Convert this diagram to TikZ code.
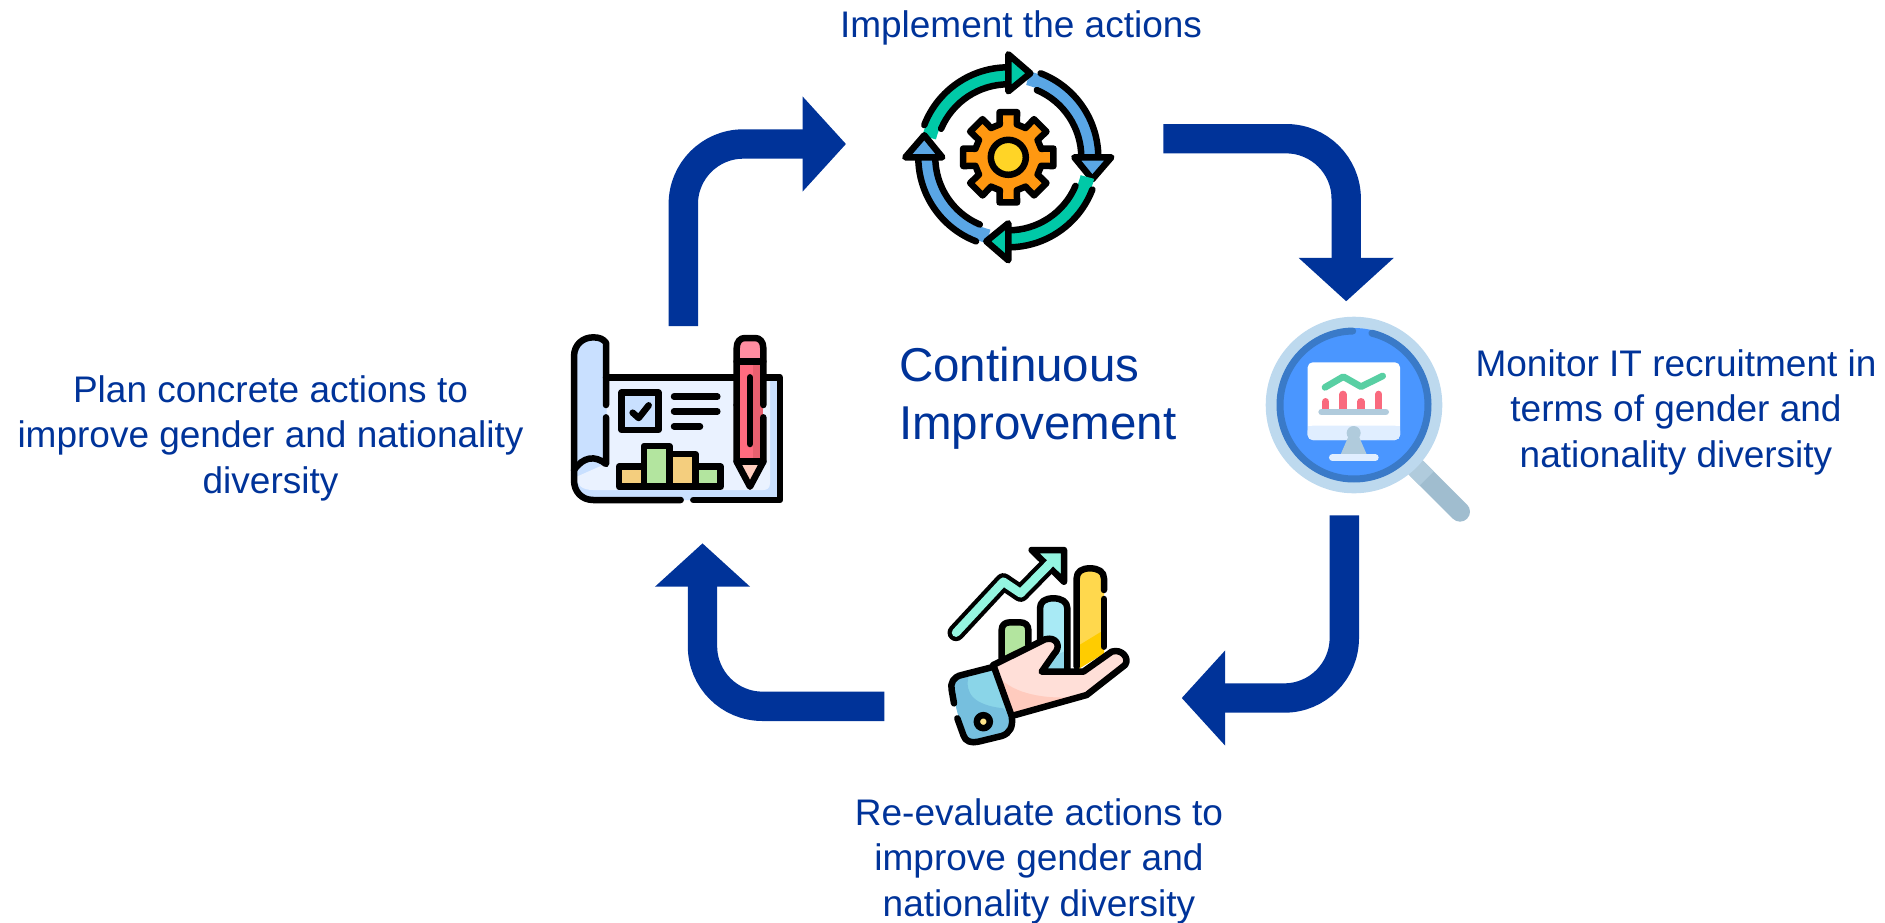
\documentclass[tikz,border=0pt]{standalone}
\usepackage{fontspec}
\setmainfont{Liberation Sans}
\usetikzlibrary{arrows.meta}
\definecolor{navy}{HTML}{003399}
\definecolor{ringteal}{HTML}{00C9A7}
\definecolor{ringblue}{HTML}{5AA6E5}
\definecolor{gearor}{HTML}{FF9811}
\definecolor{gearye}{HTML}{FFD426}
\definecolor{pagelt}{HTML}{EAF2FF}
\definecolor{pagedk}{HTML}{C9E0FF}
\definecolor{baror}{HTML}{F4CE7E}
\definecolor{bargr}{HTML}{B3E59F}
\definecolor{penred}{HTML}{FF6B7F}
\definecolor{penpk}{HTML}{FF8DA0}
\definecolor{pendk}{HTML}{E9606F}
\definecolor{pentip}{HTML}{FFCDBE}
\definecolor{lenslt}{HTML}{BDD9EE}
\definecolor{lensdk}{HTML}{3A7AC8}
\definecolor{lensin}{HTML}{4A96FF}
\definecolor{hndl}{HTML}{A0BDCF}
\definecolor{hndllt}{HTML}{B0CBDC}
\definecolor{scrlow}{HTML}{E0EEFF}
\definecolor{chartgr}{HTML}{58CFA3}
\definecolor{chartrd}{HTML}{F96A7E}
\definecolor{arrteal}{HTML}{94F5E0}
\definecolor{barblue}{HTML}{A8EAF5}
\definecolor{barbluedk}{HTML}{8FD6E8}
\definecolor{baryel}{HTML}{FFD84D}
\definecolor{baryeldk}{HTML}{FFCC00}
\definecolor{skin}{HTML}{FFDFD8}
\definecolor{skindk}{HTML}{FFCBBE}
\definecolor{cuff}{HTML}{8AD5E8}
\definecolor{cuffdk}{HTML}{76BFDE}
\definecolor{btn}{HTML}{FFE58A}
\tikzset{
  flow/.style={line width=29.4pt,navy,rounded corners=60pt,
    -{Triangle[length=43.4pt,width=92.6pt]}},
  caption/.style={text=navy,align=center,inner sep=0pt,
    font=\fontsize{37}{45.5}\selectfont},
  bigcaption/.style={text=navy,align=left,inner sep=0pt,
    font=\fontsize{47.5}{58}\selectfont},
  ink/.style={draw=black,line width=6.5pt,line cap=round,line join=round},
  zoomed/.style={x=.33333pt,y=-.33333pt},
}
\begin{document}
\begin{tikzpicture}[x=1pt,y=-1pt]
\useasboundingbox (0,0) rectangle (1885,922);
% icon anchors and arrow ends
\coordinate (gear) at (1008.3,157.3);
\coordinate (a1s) at (683.3,326);   \coordinate (a1c) at (683.3,144);   \coordinate (a1e) at (846,144);
\coordinate (a2s) at (1163.3,138.7);\coordinate (a2c) at (1346.2,138.7);\coordinate (a2e) at (1346.2,301.3);
\coordinate (a3s) at (1344.3,515.3);\coordinate (a3c) at (1344.3,698);  \coordinate (a3e) at (1181.7,698);
\coordinate (a4s) at (884.3,706.3); \coordinate (a4c) at (702.5,706.3); \coordinate (a4e) at (702.5,543.3);
% arrows
\draw[flow] (a1s) -- (a1c) -- (a1e);
\draw[flow] (a2s) -- (a2c) -- (a2e);
\draw[flow] (a3s) -- (a3c) -- (a3e);
\draw[flow] (a4s) -- (a4c) -- (a4e);
% texts
\node[caption] (tImpl) at (1021,28) {Implement the actions};
\node[caption] (tPlan) at (270.5,438) {Plan concrete actions to\\improve gender and nationality\\diversity};
\node[caption] (tMon) at (1676,412) {Monitor IT recruitment in\\terms of gender and\\nationality diversity};
\node[caption] (tRe) at (1039,861) {Re-evaluate actions to\\improve gender and\\nationality diversity};
\node[bigcaption,anchor=west] (tCont) at (899,398) {Continuous\\Improvement};
% ---------- gear icon ----------
\begin{scope}[shift={(gear)},x=1pt,y=1pt]
  \foreach \k/\c in {0/ringblue,90/ringteal,180/ringblue,270/ringteal}{
   \begin{scope}[rotate=\k]
    \draw[line width=14pt,\c] (76:81.5pt) arc[start angle=76,end angle=0,radius=81.5pt];
    \draw[ink] (69:90pt) arc[start angle=69,end angle=0,radius=90pt];
    \draw[ink] (67:73pt) arc[start angle=67,end angle=0,radius=73pt];
    \filldraw[ink,fill=\c] (66pt,0pt) -- (103pt,0pt) -- (84pt,-22pt) -- cycle;
   \end{scope}}
  \filldraw[ink,fill=gearor]
    (-14.5:34pt) \foreach \a in {0,45,...,315}{
      -- (\a-14.5:34pt) -- (\a-11:46pt) -- (\a+11:46pt) -- (\a+14.5:34pt) } -- cycle;
  \filldraw[ink,fill=gearye] (0,0) circle[radius=17.5pt];
\end{scope}
% ---------- blueprint icon ----------
\begin{scope}[shift={(550,320)},zoomed]
  \fill[pagedk] (170,172) -- (690,172) -- (690,540) -- (130,540)
     .. controls (95,540) and (72,515) .. (72,480) -- (72,300) -- cycle;
  \fill[pagelt] (170,180) -- (660,180) -- (660,490)
     .. controls (660,505) and (650,510) .. (640,510) -- (130,510)
     .. controls (95,510) and (80,495) .. (80,470) -- (170,430) -- cycle;
  \fill[pagedk] (72,110) .. controls (72,72) and (100,52) .. (130,52)
     .. controls (150,52) and (160,58) .. (168,68) -- (168,432)
     .. controls (135,405) and (100,410) .. (72,450) -- cycle;
  \draw[ink] (168,172) -- (555,172);
  \draw[ink] (645,172) -- (690,172) -- (690,540) -- (430,540);
  \draw[ink] (392,540) -- (130,540) .. controls (95,540) and (72,515) .. (72,480) -- (72,110)
     .. controls (72,72) and (100,52) .. (130,52) .. controls (150,52) and (160,58) .. (168,68) -- (168,255);
  \draw[ink] (168,292) -- (168,432) .. controls (135,405) and (100,410) .. (72,450);
  \filldraw[ink,fill=pagedk] (215,218) rectangle (325,330);
  \draw[ink] (248,278) -- (266,294) -- (296,256);
  \draw[ink] (372,230) -- (502,230);
  \draw[ink] (372,274) -- (502,274);
  \draw[ink] (372,319) -- (450,319);
  \filldraw[ink,fill=baror] (207,440) rectangle (282,500);
  \filldraw[ink,fill=bargr] (282,378) rectangle (358,500);
  \filldraw[ink,fill=baror] (358,402) rectangle (436,500);
  \filldraw[ink,fill=bargr] (436,440) rectangle (512,500);
  % pencil
  \fill[penpk] (560,125) -- (560,85) .. controls (560,65) and (570,54) .. (585,54) -- (615,54)
     .. controls (630,54) and (640,65) .. (640,85) -- (640,125) -- cycle;
  \fill[penred] (560,125) rectangle (640,425);
  \fill[pendk] (610,125) rectangle (640,425);
  \fill[pentip] (560,425) -- (640,425) -- (600,505) -- cycle;
  \draw[ink] (560,255) -- (560,85) .. controls (560,65) and (570,54) .. (585,54) -- (615,54)
     .. controls (630,54) and (640,65) .. (640,85) -- (640,255);
  \draw[ink] (640,292) -- (640,425) -- (600,500) -- (560,425) -- (560,255);
  \draw[ink] (560,124) -- (640,124);
  \draw[ink] (560,425) -- (640,425);
  \draw[ink] (600,172) -- (600,372);
\end{scope}
% ---------- magnifier icon ----------
\begin{scope}[shift={(1250,305)},zoomed]
  \draw[hndl,line width=20pt,line cap=round] (500,490) -- (630,620);
  \draw[hndllt,line width=20pt] (490,480) -- (530,520);
  \fill[lenslt] (312,300) circle[radius=88.3pt];
  \fill[lensin] (312,300) circle[radius=77pt];
  \begin{scope}[shift={(312,300)},x=1pt,y=1pt]
    \draw[lensdk,line width=7pt,line cap=round]
      (91:74pt) arc[start angle=91,end angle=436,radius=74pt];
  \end{scope}
  \fill[white,rounded corners=5pt] (173,172) rectangle (450,405);
  \fill[scrlow,rounded corners=5pt] (173,362) rectangle (450,405);
  \fill[scrlow] (173,362) rectangle (450,385);
  \fill[hndllt] (295,395) -- (327,395) -- (350,448) -- (272,448) -- cycle;
  \fill[hndllt] (311,384) circle[radius=7pt];
  \draw[scrlow,line width=6.7pt,line cap=round] (247,458) -- (376,458);
  \draw[chartrd,line width=7.3pt,line cap=round] (227,290) -- (227,312);
  \draw[chartrd,line width=7.3pt,line cap=round] (279,268) -- (279,312);
  \draw[chartrd,line width=7.3pt,line cap=round] (333,290) -- (333,312);
  \draw[chartrd,line width=7.3pt,line cap=round] (386,268) -- (386,312);
  \draw[hndllt,line width=6.7pt,line cap=round] (215,321) -- (407,321);
  \draw[chartgr,line width=6.7pt,line cap=round,line join=round] (225,247) -- (280,215) -- (333,245) -- (398,213);
\end{scope}
% ---------- hand icon ----------
\begin{scope}[shift={(930,530)},zoomed]
  % trend arrow
  \draw[black,line width=17pt,line cap=round,line join=round] (78,308) -- (220,155) -- (272,190) -- (375,85);
  \filldraw[ink,fill=arrteal] (305,60) -- (402,60) -- (402,155) -- cycle;
  \draw[arrteal,line width=8.5pt,line cap=round,line join=round] (78,308) -- (220,155) -- (272,190) -- (375,85);
  % bars
  \filldraw[ink,fill=bargr] (215,385) -- (215,300) .. controls (215,285) and (225,277) .. (240,277) -- (270,277)
     .. controls (285,277) and (295,285) .. (295,300) -- (295,345);
  \fill[barblue] (330,420) -- (330,235) .. controls (330,215) and (345,205) .. (370,205)
     .. controls (395,205) and (412,215) .. (412,235) -- (412,420) -- cycle;
  \fill[barbluedk] (345,420) -- (380,375) -- (412,360) -- (412,420) -- cycle;
  \draw[ink] (330,340) -- (330,235) .. controls (330,215) and (345,205) .. (370,205)
     .. controls (395,205) and (412,215) .. (412,235) -- (412,420);
  \fill[baryel] (440,420) -- (440,145) .. controls (440,125) and (455,115) .. (480,115)
     .. controls (505,115) and (522,125) .. (522,145) -- (522,370) -- cycle;
  \fill[baryeldk] (440,420) -- (440,350) -- (522,300) -- (522,370) -- cycle;
  \draw[ink] (522,180) -- (522,145) .. controls (522,125) and (505,115) .. (480,115)
     .. controls (455,115) and (440,125) .. (440,145) -- (440,410);
  \draw[ink] (522,207) -- (522,350);
  % hand
  \fill[skin] (190,405) -- (345,328) .. controls (380,318) and (395,350) .. (372,372) -- (335,425) -- (460,425)
     -- (545,365) .. controls (575,355) and (600,385) .. (585,405) -- (470,495) -- (245,555) -- cycle;
  \fill[skindk] (205,440) .. controls (250,490) and (340,510) .. (450,500) -- (245,555) -- cycle;
  \draw[ink] (190,405) -- (345,328) .. controls (380,318) and (395,350) .. (372,372) -- (335,425) -- (460,425)
     -- (545,365) .. controls (575,355) and (600,385) .. (585,405) -- (470,495) -- (245,558);
  % cuff
  \fill[cuff] (185,412) -- (95,435) .. controls (70,440) and (60,460) .. (65,480) -- (100,615)
     .. controls (105,635) and (125,640) .. (145,635) -- (215,618) .. controls (240,610) and (250,590) .. (245,565) -- cycle;
  \fill[cuffdk] (115,440) .. controls (105,490) and (130,525) .. (220,535) -- (245,565)
     .. controls (250,590) and (240,610) .. (215,618) -- (145,635)
     .. controls (125,640) and (105,635) .. (100,615) -- (65,480) .. controls (60,460) and (70,440) .. (115,435) -- cycle;
  \draw[ink] (185,412) -- (95,435) .. controls (70,440) and (60,460) .. (65,480) -- (72,520);
  \draw[ink] (82,565) -- (100,615) .. controls (105,635) and (125,640) .. (145,635) -- (215,618)
     .. controls (240,610) and (250,590) .. (245,558) -- (190,405);
  \filldraw[ink,fill=btn] (160,575) circle[radius=6.5pt];
\end{scope}
\end{tikzpicture}
\end{document}
